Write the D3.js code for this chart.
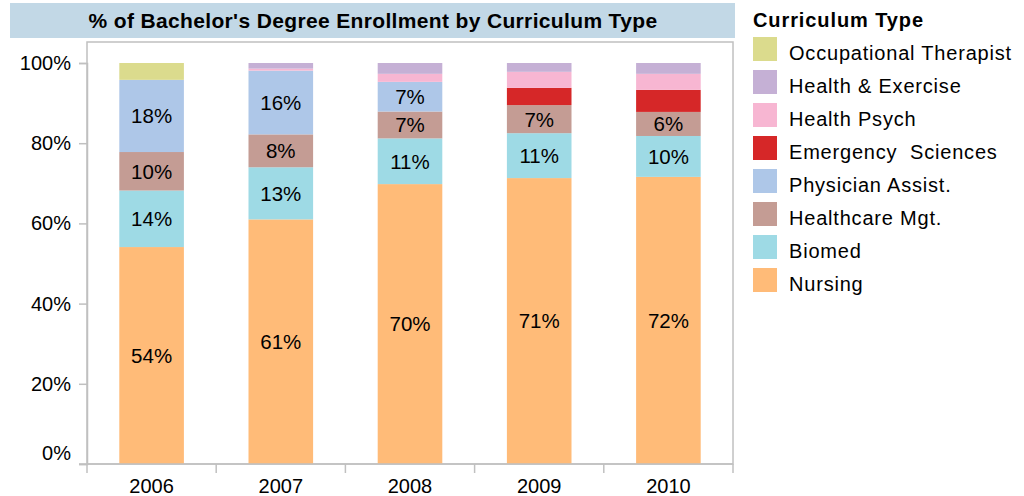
<!DOCTYPE html>
<html>
<head>
<meta charset="utf-8">
<script src="https://cdn.jsdelivr.net/npm/d3@7"></script>
<style>
  body { margin: 0; background: #fff; }
  text { font-family: "Liberation Sans", Arial, sans-serif; }
</style>
</head>
<body>
<svg width="1024" height="496"></svg>
<script>
const years = ["2006", "2007", "2008", "2009", "2010"];
// stacking order, bottom to top
const series = ["Nursing", "Biomed", "Healthcare Mgt.", "Physician Assist.",
                "Emergency  Sciences", "Health Psych", "Health & Exercise", "Occupational Therapist"];
const colors = ["#ffbb78", "#9edae5", "#c49c94", "#aec7e8",
                "#d62728", "#f7b6d2", "#c5b0d5", "#dbdb8d"];

const nursing    = [54.1, 61.0, 69.8, 71.3, 71.6];
const biomed     = [14.1, 13.0, 11.4, 11.2, 10.2];
const healthMgt  = [9.6, 8.2, 6.7, 7.0, 6.0];
const physAssist = [18.0, 15.9, 7.4, 0, 0];
const emergency  = [0, 0, 0, 4.3, 5.5];
const healthPsych = [0, 0.5, 2.0, 4.0, 4.0];
const healthEx   = [0, 1.4, 2.7, 2.2, 2.7];
const occTherapist = [4.2, 0, 0, 0, 0];

const yTicks = [0, 20, 40, 60, 80, 100];

const values = [nursing, biomed, healthMgt, physAssist, emergency, healthPsych, healthEx, occTherapist];
const table = years.map((yr, i) => {
    const row = { year: yr };
    series.forEach((s, k) => { row[s] = values[k][i]; });
    return row;
});

const svg = d3.select("svg");
const plotLeft = 87, plotRight = 733, plotTop = 42, plotBottom = 464;

const x = d3.scaleBand().domain(years).range([plotLeft, plotRight]).paddingInner(0.5).paddingOuter(0.25);
const y = d3.scaleLinear().domain([0, 100]).range([plotBottom, 63]);

// title band
svg.append("rect").attr("x", 10).attr("y", 3).attr("width", 725).attr("height", 35).attr("fill", "#c2d8e6");
svg.append("text").attr("x", 373).attr("y", 28).attr("text-anchor", "middle")
    .style("font-size", "21px").style("font-weight", "bold").style("letter-spacing", "0.35px")
    .text("% of Bachelor's Degree Enrollment by Curriculum Type");

// plot frame
svg.append("rect").attr("x", plotLeft).attr("y", plotTop).attr("width", plotRight - plotLeft).attr("height", plotBottom - plotTop)
    .attr("fill", "none").attr("stroke", "#c0c0c0").attr("stroke-width", 1.5);

const stack = d3.stack().keys(series)(table);

const g = svg.append("g");
stack.forEach((layer, k) => {
    g.selectAll(null).data(layer).enter().append("rect")
        .attr("x", d => x(d.data.year))
        .attr("width", x.bandwidth())
        .attr("y", d => y(d[1]))
        .attr("height", d => y(d[0]) - y(d[1]))
        .attr("fill", colors[k]);
    g.selectAll(null).data(layer.filter(d => d[1] - d[0] >= 5.8)).enter().append("text")
        .attr("x", d => x(d.data.year) + x.bandwidth() / 2)
        .attr("y", d => y((d[0] + d[1]) / 2))
        .attr("dy", "0.36em")
        .attr("text-anchor", "middle")
        .style("font-size", "20.5px")
        .text(d => Math.round(d[1] - d[0]) + "%");
});

// y axis
const yAxis = svg.append("g").attr("transform", `translate(${plotLeft},0)`)
    .call(d3.axisLeft(y).tickValues(yTicks).tickFormat(d => d + "%").tickSize(8).tickPadding(8));
yAxis.select(".domain").attr("stroke", "#c0c0c0").attr("stroke-width", 1.5);
yAxis.selectAll(".tick line").attr("stroke", "#c0c0c0").attr("stroke-width", 1.5);
yAxis.selectAll(".tick text").style("font-size", "20px").attr("fill", "#000")
    .style("font-family", "'Liberation Sans', Arial, sans-serif")
    .attr("y", d => d === 0 ? -11 : 0);

// x axis: ticks at category boundaries
const xAxis = svg.append("g").attr("transform", `translate(0,${plotBottom})`)
    .call(d3.axisBottom(x).tickSize(0).tickPadding(14.5));
xAxis.select(".domain").remove();
xAxis.selectAll(".tick text").style("font-size", "20px").attr("fill", "#000")
    .style("font-family", "'Liberation Sans', Arial, sans-serif");
svg.append("line").attr("x1", plotLeft - 8).attr("x2", plotRight).attr("y1", plotBottom).attr("y2", plotBottom)
    .attr("stroke", "#c0c0c0").attr("stroke-width", 1.5);
const step = x.step();
svg.append("g").selectAll("line").data(d3.range(years.length + 1)).enter().append("line")
    .attr("x1", i => plotLeft + i * step).attr("x2", i => plotLeft + i * step)
    .attr("y1", plotBottom).attr("y2", plotBottom + 9)
    .attr("stroke", "#c0c0c0").attr("stroke-width", 1.5);

// legend, top entry first
const legend = svg.append("g").attr("transform", "translate(753,0)");
legend.append("text").attr("x", 0).attr("y", 27).style("font-size", "20px").style("font-weight", "bold")
    .style("letter-spacing", "0.9px")
    .text("Curriculum Type");
const legendOrder = series.map((s, k) => k).reverse();
const item = legend.selectAll("g.item").data(legendOrder).enter().append("g")
    .attr("class", "item")
    .attr("transform", (k, i) => `translate(0,${37 + i * 33})`);
item.append("rect").attr("width", 24).attr("height", 24).attr("fill", k => colors[k]);
item.append("text").attr("x", 36).attr("y", 23).style("font-size", "20px")
    .style("letter-spacing", "0.8px").style("white-space", "pre")
    .text(k => series[k]);
</script>
</body>
</html>
